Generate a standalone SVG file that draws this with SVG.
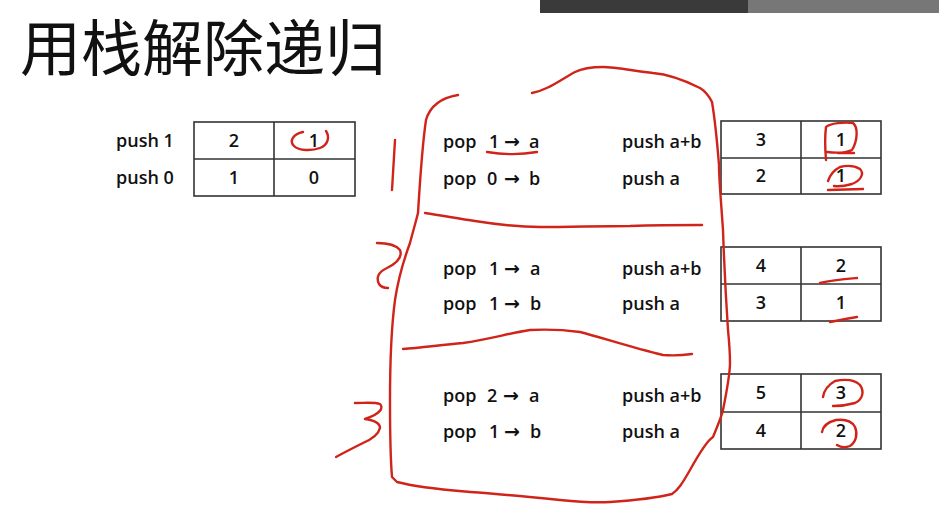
<svg xmlns="http://www.w3.org/2000/svg" width="939" height="521" viewBox="0 0 939 521">
<style>
.t{font-family:"Open Sans","Liberation Sans","DejaVu Sans",sans-serif;font-size:18px;font-weight:600;fill:#111}
.a{font-family:"DejaVu Sans",sans-serif;font-weight:bold;font-size:19px}
.c{text-anchor:middle}
.g{fill:none;stroke:#333;stroke-width:1.6}
.r{fill:none;stroke:#d0241a;stroke-width:2.4;stroke-linecap:round;stroke-linejoin:round}
.h{font-family:"Noto Sans CJK SC","Noto Sans CJK JP",sans-serif;font-size:61px;fill:#111}
</style>
<rect width="939" height="521" fill="#fff"/>
<g id="topbar">
<rect x="540" y="0" width="208" height="13" fill="#3a3a3a"/>
<rect x="748" y="0" width="191" height="13" fill="#777"/>
</g>
<g id="title"><text class="h" x="20" y="71">用栈解除递归</text></g>
<g id="initial-stack">
<text class="t" x="116" y="147">push 1</text>
<text class="t" x="116" y="184">push 0</text>
<rect class="g" x="194" y="122" width="161" height="74"/>
<line class="g" x1="274" y1="122" x2="274" y2="196"/>
<line class="g" x1="194" y1="159" x2="355" y2="159"/>
<text class="t c" x="234" y="147">2</text>
<text class="t c" x="314" y="147">1</text>
<text class="t c" x="234" y="184">1</text>
<text class="t c" x="314" y="184">0</text>
</g>
<g id="step1">
<text class="t" x="443" y="148">pop <tspan x="489">1</tspan> <tspan class="a" x="504">→</tspan> <tspan x="529">a</tspan></text>
<text class="t" x="443" y="185">pop <tspan x="487">0</tspan> <tspan class="a" x="504">→</tspan> <tspan x="529">b</tspan></text>
<text class="t" x="622" y="148">push a+b</text>
<text class="t" x="622" y="185">push a</text>
</g>
<g id="step2">
<text class="t" x="443" y="275">pop <tspan x="489">1</tspan> <tspan class="a" x="504">→</tspan> <tspan x="530">a</tspan></text>
<text class="t" x="443" y="310">pop <tspan x="489">1</tspan> <tspan class="a" x="504">→</tspan> <tspan x="530">b</tspan></text>
<text class="t" x="622" y="275">push a+b</text>
<text class="t" x="622" y="310">push a</text>
</g>
<g id="step3">
<text class="t" x="443" y="402">pop <tspan x="487">2</tspan> <tspan class="a" x="503">→</tspan> <tspan x="529">a</tspan></text>
<text class="t" x="443" y="438">pop <tspan x="489">1</tspan> <tspan class="a" x="504">→</tspan> <tspan x="530">b</tspan></text>
<text class="t" x="622" y="402">push a+b</text>
<text class="t" x="622" y="438">push a</text>
</g>
<g id="stack1">
<rect class="g" x="721" y="121" width="160" height="73"/>
<line class="g" x1="801" y1="121" x2="801" y2="194"/>
<line class="g" x1="721" y1="158" x2="881" y2="158"/>
<text class="t c" x="761" y="146">3</text>
<text class="t c" x="841" y="146">1</text>
<text class="t c" x="761" y="182">2</text>
<text class="t c" x="841" y="182">1</text>
</g>
<g id="stack2">
<rect class="g" x="721" y="247" width="160" height="74"/>
<line class="g" x1="801" y1="247" x2="801" y2="321"/>
<line class="g" x1="721" y1="284" x2="881" y2="284"/>
<text class="t c" x="761" y="272">4</text>
<text class="t c" x="841" y="272">2</text>
<text class="t c" x="761" y="309">3</text>
<text class="t c" x="841" y="309">1</text>
</g>
<g id="stack3">
<rect class="g" x="721" y="374" width="160" height="75"/>
<line class="g" x1="801" y1="374" x2="801" y2="449"/>
<line class="g" x1="721" y1="412" x2="881" y2="412"/>
<text class="t c" x="761" y="399">5</text>
<text class="t c" x="841" y="399">3</text>
<text class="t c" x="761" y="437">4</text>
<text class="t c" x="841" y="437">2</text>
</g>
<g id="annotations">
<path class="r" d="M458 95 C440 98 430 106 426 120 C423 140 420 180 418 213 C415 225 412 235 410 243 C403 262 398 280 395 300 C391 330 390 370 390 400 C390 440 391 465 392 477 L397 482 C420 488 447 490 470 492 C500 494 530 497 560 500 C580 502 593 503 610 502 C640 500 660 497 672 494 C678 490 682 484 690 470 C700 452 708 440 713 437 C718 425 722 415 723 410 C727 390 730 375 730 363 C730 350 729 340 728 330 C726 300 724 260 723 230 C721 200 719 180 719 165 C717 140 715 120 712 102 C708 94 705 91 700 88 C680 78 665 74 653 73 C635 71 615 67 603 67 C590 67 583 68 575 72 C560 80 548 90 532 93"/>
<path class="r" d="M425 213 C445 216 460 219 475 221 C500 225 520 227 540 227 C570 227 600 226 630 226 C660 225 685 225 702 225"/>
<path class="r" d="M403 349 C420 348 440 345 463 343 C490 339 510 333 530 330 C550 329 565 330 580 332 C600 337 630 347 663 355 C675 356 685 355 692 354"/>
<path class="r" d="M395 140 C394 155 393 172 392 190"/>
<path class="r" d="M377 243 C388 243 396 245 400 250 C403 258 395 264 387 268 C378 272 376 278 379 284 C381 287 385 288 388 288"/>
<path class="r" d="M355 403 C365 403 375 402 380 404 C384 408 380 414 365 419 C372 420 380 422 380 428 C378 436 370 440 363 443 C355 447 345 452 336 457"/>
<path class="r" d="M487 152 C505 155 520 155 537 152"/>
<path class="r" d="M303 132 C293 134 289 141 294 146 C299 151 312 151 320 148 C328 145 330 137 326 131"/>
<path class="r" d="M826 160 C825 148 825 135 826 127 C830 123 845 122 853 123 C858 127 858 140 852 150 C845 153 835 153 827 152 M838 153 L854 153"/>
<path class="r" d="M828 181 C830 175 834 170 840 167 C848 165 855 166 860 169 C865 174 860 181 852 184 C845 186 840 187 834 186 M828 190 L863 189"/>
<path class="r" d="M820 283 C832 280 845 279 857 278"/>
<path class="r" d="M830 322 C840 320 850 318 857 317"/>
<path class="r" d="M823 397 C824 390 828 385 835 381 C845 379 855 380 860 385 C865 392 862 400 855 403 C848 405 840 406 833 406"/>
<path class="r" d="M822 432 C823 426 828 422 836 420 C845 419 852 421 855 427 C858 434 856 442 850 446 C845 448 840 447 837 445"/>
</g>
</svg>
